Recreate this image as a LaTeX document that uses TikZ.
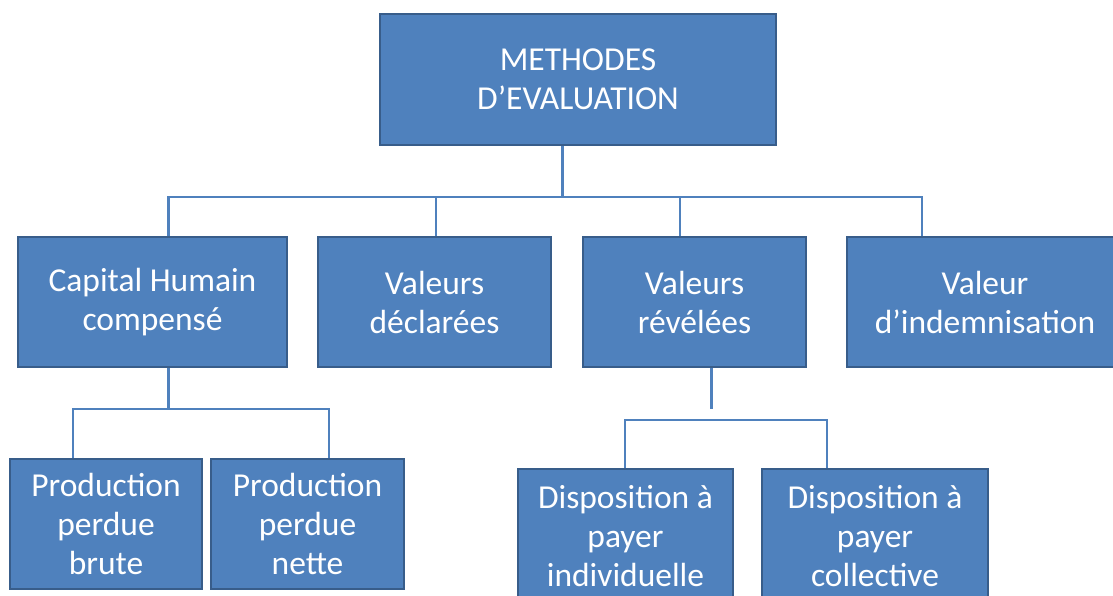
\documentclass[tikz,border=0pt]{standalone}
\usepackage{fontspec}
\setmainfont{Carlito}
\definecolor{boxfill}{HTML}{4F81BD}
\definecolor{boxedge}{HTML}{385D8A}
\definecolor{linec}{HTML}{4F81BD}
\begin{document}
\begin{tikzpicture}[x=1pt,y=-1pt,
  box/.style={draw=boxedge, line width=2.5pt, fill=boxfill, text=white, align=center,
    inner sep=0pt, font=\fontsize{33.5}{39}\selectfont},
  conn/.style={draw=linec, line width=3pt},
  connthin/.style={draw=linec, line width=2.4pt}]
\useasboundingbox (0,0) rectangle (1113,596);
\clip (0,0) rectangle (1113,596);
% top
\node[box, minimum width=396pt, minimum height=131pt] (top) at (578,79.5) {METHODES\\D’EVALUATION};
% row 2
\node[box, minimum width=269pt, minimum height=130pt] (cap) at (152.5,302) {Capital Humain\\compensé};
\node[box, minimum width=233pt, minimum height=130pt] (decl) at (434.5,302) {Valeurs\\déclarées};
\node[box, minimum width=223pt, minimum height=130pt] (rev) at (694.5,302) {Valeurs\\révélées};
\node[box, minimum width=276pt, minimum height=130pt] (ind) at (985,302) {Valeur\\d’indemnisation};
% row 3 left
\node[box, minimum width=192pt, minimum height=130pt] (pb) at (106,524) {Production\\perdue\\brute};
\node[box, minimum width=193pt, minimum height=130pt] (pn) at (307.5,524) {Production\\perdue\\nette};
% row 3 right
\node[box, minimum width=215pt, minimum height=134pt] (di) at (625.5,536) {Disposition à\\payer\\individuelle};
\node[box, minimum width=226pt, minimum height=134pt] (dc) at (875,536) {Disposition à\\payer\\collective};
% connectors
\coordinate (b1) at (562,197);
\draw[conn] (top.south -| b1) -- (b1);
\draw[connthin] (b1) -| ([xshift=16pt]cap.north);
\draw[connthin] (b1) -| ([xshift=1.5pt]decl.north);
\draw[connthin] (b1) -| ([xshift=-14.5pt]rev.north);
\draw[connthin] (b1) -| ([xshift=-63pt]ind.north);
\coordinate (b2) at (168,409);
\draw[conn] (cap.south -| b2) -- (b2);
\draw[connthin] (b2) -| ([xshift=-33pt]pb.north);
\draw[connthin] (b2) -| ([xshift=21.5pt]pn.north);
\coordinate (b3e) at (711,409);
\draw[conn] (rev.south -| b3e) -- (b3e);
\coordinate (b3) at (711,420);
\draw[connthin] (b3) -| ([xshift=-0.5pt]di.north);
\draw[connthin] (b3) -| ([xshift=-48pt]dc.north);
\end{tikzpicture}
\end{document}
